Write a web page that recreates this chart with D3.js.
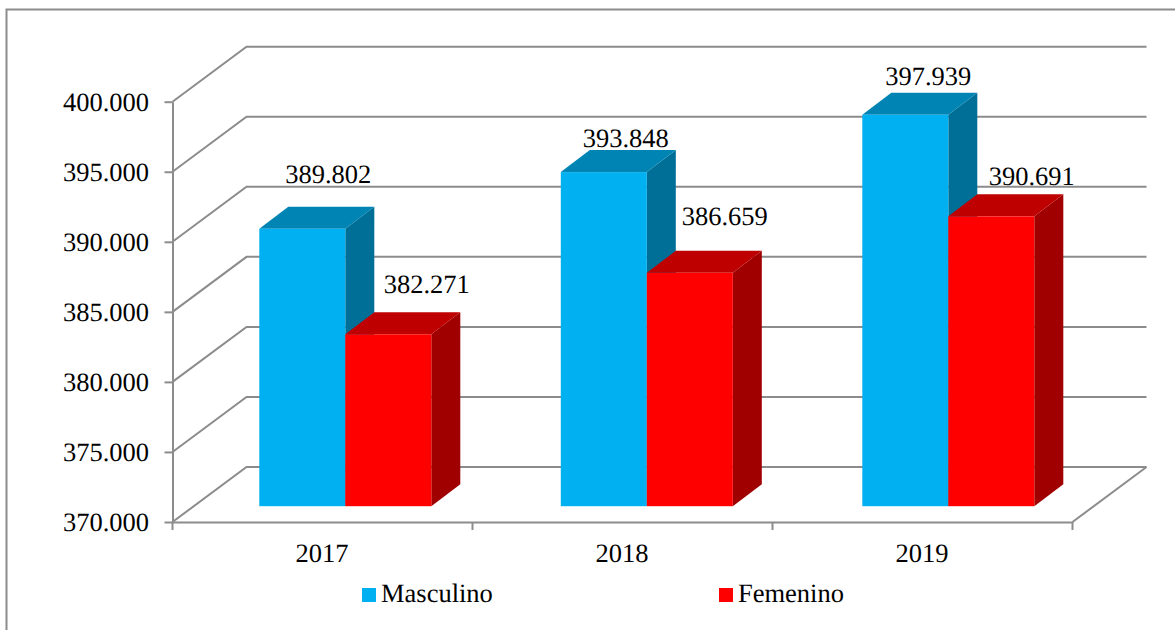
<!DOCTYPE html>
<html><head><meta charset="utf-8">
<script src="https://cdn.jsdelivr.net/npm/d3@7/dist/d3.min.js"></script>
<style>html,body{margin:0;padding:0;background:#fff}svg{display:block}text{font-family:"Liberation Serif",serif;fill:#000;text-rendering:geometricPrecision}</style>
</head><body><svg id="c" width="1175" height="630"></svg>
<script>
const years=["2017","2018","2019"];
const masculino=[389802,393848,397939];
const femenino=[382271,386659,390691];
const seriesNames=["Masculino","Femenino"];
const ticks=[370000,375000,380000,385000,390000,395000,400000];
const fmt=v=>d3.format(",.0f")(v).replace(/,/g,".");
const grid="#8c8c8c";
const fs=26.5;
const svg=d3.select("#c");
const x=d3.scaleBand().domain(years).range([172.5,1072.5]);
const xBar=d3.scaleBand().domain(years).range([194.55,1099.05]);
const y=d3.scaleLinear().domain([370000,400000]).range([522,101.7]);
const back={dx:74,dy:-55};
const bar={w:86,base:-15.8,dx:29,dy:-22};
// frame
svg.append("path").attr("d","M6.5,630V9.5H1175").attr("fill","none").attr("stroke","#8c8c8c").attr("stroke-width",2);
// walls
const g=svg.append("g").attr("fill","none").attr("stroke",grid).attr("stroke-width",2);
ticks.forEach(t=>{
  const p=d3.path();
  p.moveTo(x.range()[0],y(t));p.lineTo(x.range()[0]+back.dx,y(t)+back.dy);p.lineTo(x.range()[1]+back.dx,y(t)+back.dy);
  g.append("path").attr("d",p.toString());
});
g.append("path").attr("d",`M${x.range()[1]},${y(370000)}L${x.range()[1]+back.dx},${y(370000)+back.dy}`);
// axes
const ay=d3.axisLeft(y).tickValues(ticks).tickFormat(fmt).tickSize(8).tickSizeOuter(0).tickPadding(15.5);
const ya=svg.append("g").attr("transform",`translate(${x.range()[0]},0)`).call(ay);
const ax=d3.axisBottom(x).tickSize(0).tickPadding(21);
const xa=svg.append("g").attr("transform",`translate(0,${y(370000)})`).call(ax);
[ya,xa].forEach(a=>{a.attr("font-family",null).attr("font-size",null);a.selectAll("path.domain,line").attr("stroke",grid).attr("stroke-width",2);a.selectAll("text").attr("font-size",fs).attr("fill","#000");});
ya.selectAll("text").attr("dy","0.33em");
xa.selectAll("text").attr("dy","0.71em").attr("dx",-0.5);
// x ticks at band edges
svg.append("g").selectAll("line").data([0,1,2,3]).join("line")
 .attr("x1",i=>x.range()[0]+i*x.bandwidth()).attr("x2",i=>x.range()[0]+i*x.bandwidth())
 .attr("y1",y(370000)).attr("y2",y(370000)+8).attr("stroke",grid).attr("stroke-width",2);
// bars
const colors=[["#00b0f0","#0084b4","#006f98"],["#ff0000","#bf0000","#a00000"]];
[masculino,femenino].forEach((vals,s)=>{
  const gb=svg.append("g");
  vals.forEach((v,i)=>{
    const c=xBar.bandwidth()/2+xBar(years[i]);
    const x0=c+(s-1)*bar.w, x1=x0+bar.w;
    const y0=y(370000)+bar.base, yt=y(v)+bar.base;
    const [f,t,r]=colors[s];
    gb.append("path").attr("fill",r).attr("d",`M${x1},${y0}L${x1+bar.dx},${y0+bar.dy}L${x1+bar.dx},${yt+bar.dy}L${x1},${yt}Z`);
    gb.append("path").attr("fill",t).attr("d",`M${x0},${yt}L${x0+bar.dx},${yt+bar.dy}L${x1+bar.dx},${yt+bar.dy}L${x1},${yt}Z`);
    gb.append("rect").attr("fill",f).attr("x",x0).attr("y",yt).attr("width",bar.w).attr("height",y0-yt);
  });
});
// data labels
const labelShift=[[[26,-46],[38.5,-41.5]],[[22,-25],[35,-48]],[[23,-30],[40.5,-31]]];
years.forEach((yr,i)=>{
  [masculino[i],femenino[i]].forEach((v,s)=>{
    const c=xBar.bandwidth()/2+xBar(yr);
    const cx=c+(s-0.5)*bar.w;
    svg.append("text").attr("text-anchor","middle").attr("font-size",fs)
      .attr("x",cx+labelShift[i][s][0]).attr("y",y(v)+bar.base+labelShift[i][s][1]).text(fmt(v));
  });
});
// legend
const lg=svg.append("g");
seriesNames.forEach((n,i)=>{
  const lx=[362,719][i];
  lg.append("rect").attr("x",lx).attr("y",588).attr("width",14).attr("height",14).attr("fill",colors[i][0]);
  lg.append("text").attr("x",lx+19).attr("y",602).attr("font-size",fs).text(n);
});
</script></body></html>
